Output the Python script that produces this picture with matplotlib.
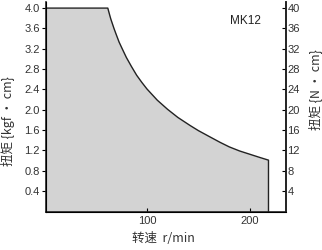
import matplotlib
matplotlib.use("Agg")
import matplotlib.pyplot as plt

speed = [2, 62, 64, 65, 66, 68, 70, 73, 76, 80, 85, 90, 95, 100, 110, 120, 130, 142,
         150, 160, 171, 180, 190, 200, 210, 218, 218]
torque = [4.0, 4.0, 3.85, 3.78, 3.72, 3.60, 3.49, 3.33, 3.20, 3.03, 2.85, 2.68, 2.54, 2.41,
          2.19, 2.01, 1.85, 1.69, 1.59, 1.48, 1.36, 1.27, 1.19, 1.125, 1.06, 1.01, 0.0]
left_ticks = [0.4, 0.8, 1.2, 1.6, 2.0, 2.4, 2.8, 3.2, 3.6, 4.0]
left_labels = ["0.4", "0.8", "1.2", "1.6", "2.0", "2.4", "2.8", "3.2", "3.6", "4.0"]
right_ticks = [4, 8, 12, 16, 20, 24, 28, 32, 36, 40]
x_ticks = [100, 200]

tick_font = "Liberation Sans"
cjk = ["Noto Sans CJK SC", "DejaVu Sans"]

fig = plt.figure(figsize=(3.22, 2.5), dpi=100)
ax = fig.add_axes([46/322, 1-211.5/250, 240/322, 209.5/250])
ax.fill_between(speed, torque, 0, color="#d3d3d3", lw=0)
ax.plot(speed, torque, color="#222222", lw=1.0)
ax.set_xlim(2, 235)
ax.set_ylim(0, 4.12)
ax.set_yticks(left_ticks)
ax.set_yticklabels(left_labels, fontfamily=tick_font, fontsize=8, color="#333333")
ax.set_xticks(x_ticks)
ax.set_xticklabels([str(t) for t in x_ticks], fontfamily=tick_font, fontsize=8, color="#333333")
ax.tick_params(axis="y", direction="out", length=3, width=0.8, pad=1.5)
ax.tick_params(axis="x", direction="in", length=3, width=0.8, pad=3)
ax.spines["top"].set_visible(False)
for s in ["left", "bottom", "right"]:
    ax.spines[s].set_linewidth(1.2)
    ax.spines[s].set_color("#222222")

ax.set_ylabel("扭矩 {kgf · cm}", fontfamily=cjk, fontsize=9, color="#333333")
ax.yaxis.set_label_coords(-0.13, 0.43)
ax.set_xlabel("转速  r/min", fontfamily=cjk, fontsize=9, color="#333333")
ax.xaxis.set_label_coords(0.49, -0.1)

ax2 = ax.twinx()
ax2.set_ylim(0, 41.2)
ax2.set_yticks(right_ticks)
ax2.set_yticklabels([str(t) for t in right_ticks], fontfamily=tick_font, fontsize=8, color="#333333")
ax2.tick_params(axis="y", direction="in", length=3, width=0.8, pad=1)
ax2.spines["top"].set_visible(False)
ax2.spines["right"].set_linewidth(1.2)
ax2.spines["right"].set_color("#222222")
ax2.set_ylabel("扭矩 {N · cm}", fontfamily=cjk, fontsize=9, color="#333333", rotation=90)
ax2.yaxis.set_label_coords(1.09, 0.58)

ax.text(0.83, 0.91, "MK12", transform=ax.transAxes, fontfamily=tick_font, fontsize=8.5,
        color="#222222", ha="center", va="center")

fig.savefig("out.png", dpi=100)
